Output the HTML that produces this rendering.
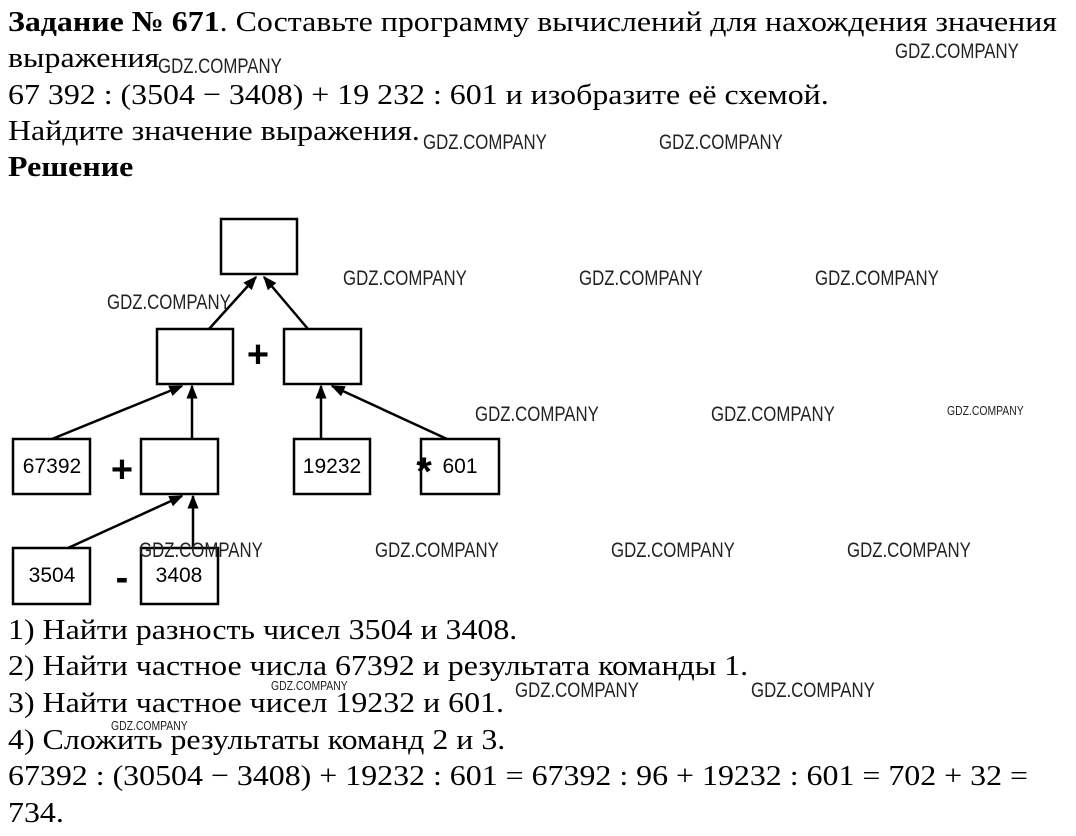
<!DOCTYPE html>
<html><head><meta charset="utf-8"><style>
body{margin:0;width:1076px;height:836px;background:#fff;position:relative;overflow:hidden;font-family:"Liberation Serif",serif;color:#000}
.t{position:absolute;left:8px;font-size:29px;white-space:nowrap;line-height:36px;transform:scaleX(1.1);transform-origin:left}
.w{position:absolute;font-family:"Liberation Sans",sans-serif;font-size:21px;color:#222;transform:scaleX(0.8);transform-origin:left;white-space:nowrap}
</style></head><body>
<div class="t" style="top:4px"><b>Задание № 671</b>. Составьте программу вычислений для нахождения значения</div>
<div class="t" style="top:40px">выражения</div>
<div class="t" style="top:77px">67 392 : (3504 − 3408) + 19 232 : 601 и изобразите её схемой.</div>
<div class="t" style="top:113px">Найдите значение выражения.</div>
<div class="t" style="top:149px"><b>Решение</b></div>
<div class="t" style="top:612px">1) Найти разность чисел 3504 и 3408.</div>
<div class="t" style="top:648px">2) Найти частное числа 67392 и результата команды 1.</div>
<div class="t" style="top:685px">3) Найти частное чисел 19232 и 601.</div>
<div class="t" style="top:722px">4) Сложить результаты команд 2 и 3.</div>
<div class="t" style="top:758px">67392 : (30504 − 3408) + 19232 : 601 = 67392 : 96 + 19232 : 601 = 702 + 32 =</div>
<div class="t" style="top:795px">734.</div>
<svg width="1076" height="836" style="position:absolute;left:0;top:0" font-family="Liberation Sans, sans-serif">
<defs><marker id="b" viewBox="0 0 10 10" markerWidth="14" markerHeight="14" refX="9" refY="5" orient="auto" markerUnits="userSpaceOnUse"><path d="M0,1 L10,5 L0,9z"/></marker></defs>
<g fill="none" stroke="#000" stroke-width="2.5">
<rect x="221" y="219" width="76" height="55"/>
<rect x="157" y="329" width="76" height="55"/>
<rect x="284" y="329" width="77" height="55"/>
<rect x="13" y="439" width="77" height="55"/>
<rect x="141" y="439" width="77" height="55"/>
<rect x="294" y="439" width="76" height="55"/>
<rect x="421" y="439" width="78" height="55"/>
<rect x="13" y="548" width="77" height="56"/>
<rect x="141" y="548" width="77" height="56"/>
</g>
<g stroke="#000" stroke-width="2.5" marker-end="url(#b)">
<line x1="209" y1="329" x2="256" y2="277"/>
<line x1="308" y1="329" x2="264" y2="277"/>
<line x1="52" y1="439" x2="182" y2="386"/>
<line x1="192" y1="439" x2="192" y2="386"/>
<line x1="321" y1="439" x2="321" y2="386"/>
<line x1="447" y1="439" x2="332" y2="386"/>
<line x1="68" y1="548" x2="182" y2="496"/>
<line x1="193" y1="548" x2="193" y2="496"/>
</g>
<g font-size="21" text-anchor="middle">
<text x="52" y="473">67392</text><text x="332" y="473">19232</text><text x="460" y="473">601</text>
<text x="52" y="582">3504</text><text x="179" y="582">3408</text>
</g>
<g font-size="38" font-weight="bold" text-anchor="middle">
<text x="258" y="367">+</text><text x="122" y="482">+</text><text x="122" y="590">-</text>
</g>
<text x="424" y="485" font-size="40" font-weight="bold" text-anchor="middle">*</text>
</svg>
<div class="w" style="left:158px;top:55px">GDZ.COMPANY</div>
<div class="w" style="left:895px;top:40px">GDZ.COMPANY</div>
<div class="w" style="left:423px;top:131px">GDZ.COMPANY</div>
<div class="w" style="left:659px;top:131px">GDZ.COMPANY</div>
<div class="w" style="left:343px;top:267px">GDZ.COMPANY</div>
<div class="w" style="left:579px;top:267px">GDZ.COMPANY</div>
<div class="w" style="left:815px;top:267px">GDZ.COMPANY</div>
<div class="w" style="left:107px;top:291px">GDZ.COMPANY</div>
<div class="w" style="left:475px;top:403px">GDZ.COMPANY</div>
<div class="w" style="left:711px;top:403px">GDZ.COMPANY</div>
<div class="w" style="left:947px;top:403px;font-size:13px">GDZ.COMPANY</div>
<div class="w" style="left:139px;top:539px">GDZ.COMPANY</div>
<div class="w" style="left:375px;top:539px">GDZ.COMPANY</div>
<div class="w" style="left:611px;top:539px">GDZ.COMPANY</div>
<div class="w" style="left:847px;top:539px">GDZ.COMPANY</div>
<div class="w" style="left:515px;top:679px">GDZ.COMPANY</div>
<div class="w" style="left:751px;top:679px">GDZ.COMPANY</div>
<div class="w" style="left:271px;top:678px;font-size:13px">GDZ.COMPANY</div>
<div class="w" style="left:111px;top:718px;font-size:13px">GDZ.COMPANY</div>
</body></html>
